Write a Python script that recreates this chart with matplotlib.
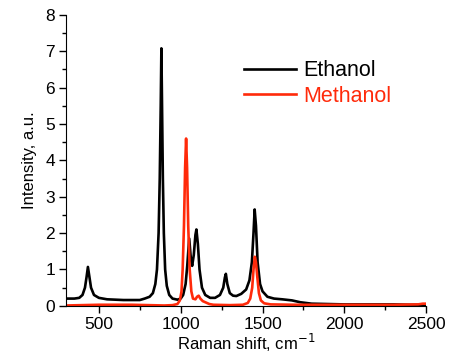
import numpy as np
import matplotlib.pyplot as plt
from matplotlib.ticker import MultipleLocator

# spectra (Raman shift in cm-1, intensity in a.u.)
eth_x = [300, 350, 380, 400, 415, 425, 433, 442, 452, 470, 500, 550, 600, 650,
         700, 750, 780, 810, 830, 845, 855, 865, 872, 878, 882, 886, 891, 897,
         905, 915, 930, 950, 980, 1000, 1015, 1030, 1040, 1052, 1062, 1070,
         1080, 1090, 1096, 1105, 1115, 1130, 1150, 1180, 1210, 1240, 1260,
         1270, 1276, 1285, 1300, 1320, 1340, 1370, 1400, 1420, 1435, 1445,
         1452, 1460, 1470, 1485, 1500, 1530, 1570, 1620, 1680, 1730, 1800,
         1900, 2000, 2100, 2200, 2300, 2400, 2500]
eth_y = [0.2, 0.2, 0.22, 0.3, 0.5, 0.8, 1.07, 0.8, 0.5, 0.3, 0.22, 0.18, 0.17,
         0.16, 0.16, 0.16, 0.2, 0.25, 0.35, 0.6, 1.0, 2.0, 3.5, 5.5, 7.08, 5.5,
         3.5, 2.0, 1.0, 0.55, 0.3, 0.2, 0.17, 0.2, 0.3, 0.6, 1.1, 1.85, 1.3,
         1.1, 1.4, 1.95, 2.1, 1.7, 1.0, 0.5, 0.3, 0.22, 0.22, 0.3, 0.5, 0.78,
         0.88, 0.6, 0.35, 0.28, 0.27, 0.33, 0.45, 0.7, 1.2, 2.0, 2.65, 2.2,
         1.2, 0.6, 0.4, 0.25, 0.2, 0.18, 0.15, 0.1, 0.06, 0.05, 0.04, 0.04,
         0.04, 0.04, 0.03, 0.03]

meth_x = [300, 500, 700, 900, 950, 980, 995, 1005, 1012, 1020, 1027, 1033,
          1039, 1046, 1055, 1065, 1075, 1090, 1100, 1110, 1120, 1135, 1150,
          1175, 1200, 1300, 1380, 1410, 1425, 1437, 1445, 1453, 1460, 1468,
          1478, 1490, 1510, 1550, 1700, 2000, 2300, 2450, 2480, 2500]
meth_y = [0.01, 0.03, 0.03, 0.01, 0.02, 0.05, 0.15, 0.4, 1.0, 2.2, 3.8, 4.6,
          3.8, 2.2, 1.0, 0.4, 0.2, 0.18, 0.25, 0.28, 0.2, 0.13, 0.1, 0.05,
          0.03, 0.02, 0.03, 0.08, 0.2, 0.5, 1.0, 1.35, 1.2, 0.8, 0.35, 0.15,
          0.07, 0.04, 0.03, 0.03, 0.03, 0.04, 0.06, 0.06]

plt.rcParams['font.family'] = ['Liberation Sans', 'DejaVu Sans']

fig = plt.figure(figsize=(4.5, 3.54), dpi=100)
ax = fig.add_axes([0.147, 0.136, 0.8, 0.822])

ax.plot(eth_x, eth_y, color='black', lw=1.9, label='Ethanol')
ax.plot(meth_x, meth_y, color='#ff2a0a', lw=1.9, label='Methanol')

ax.set_xlim(300, 2500)
ax.set_ylim(0, 8)
ax.xaxis.set_major_locator(MultipleLocator(500))
ax.xaxis.set_minor_locator(MultipleLocator(250))
ax.yaxis.set_major_locator(MultipleLocator(1))
ax.yaxis.set_minor_locator(MultipleLocator(0.5))
ax.tick_params(which='major', direction='out', length=5, width=1,
               labelsize=12.5, pad=3)
ax.tick_params(which='minor', direction='out', length=3, width=1)
ax.spines['top'].set_visible(False)
ax.spines['right'].set_visible(False)

ax.set_xlabel('Raman shift, cm$^{-1}$', fontsize=12, labelpad=0)
ax.set_ylabel('Intensity, a.u.', fontsize=12, labelpad=6)

leg = ax.legend(loc='upper left', bbox_to_anchor=(0.44, 0.91), frameon=False,
                fontsize=15.5, handlelength=2.4, handletextpad=0.35,
                labelspacing=0.2, labelcolor='linecolor')

fig.savefig('out.png', dpi=100)
